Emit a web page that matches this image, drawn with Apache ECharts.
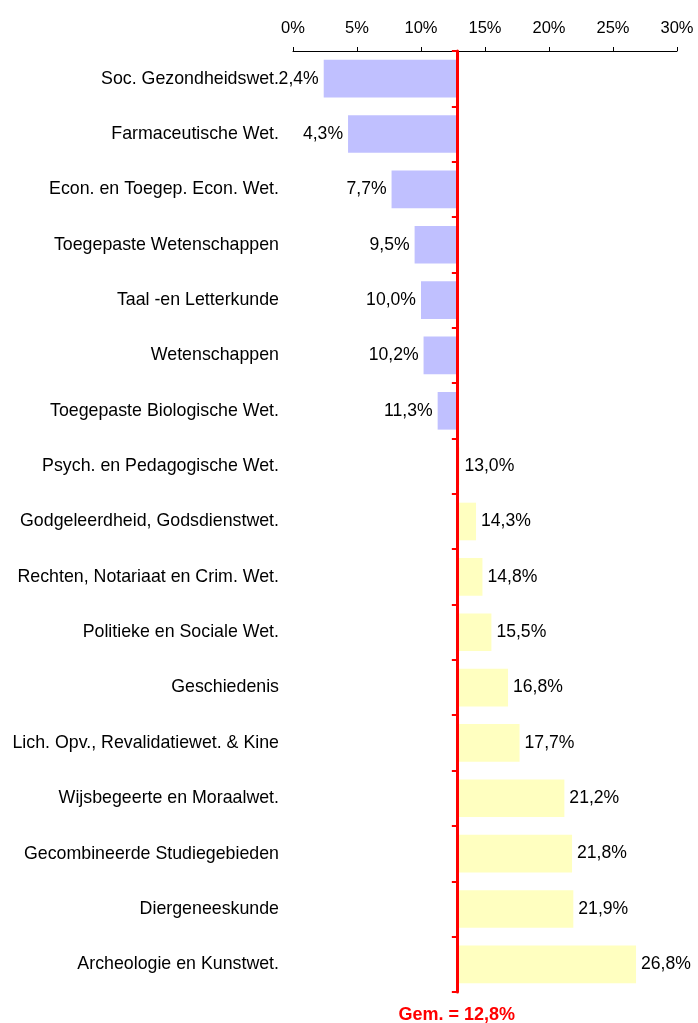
<!DOCTYPE html>
<html>
<head>
<meta charset="utf-8">
<script src="https://cdn.jsdelivr.net/npm/echarts@6/dist/echarts.min.js"></script>
<style>
  html, body { margin: 0; padding: 0; background: #ffffff; }
  #chart { width: 698px; height: 1023px; }
</style>
</head>
<body>
<div id="chart"></div>
<script>
// Study fields, top to bottom
const categories = [
  'Soc. Gezondheidswet.',
  'Farmaceutische Wet.',
  'Econ. en Toegep. Econ. Wet.',
  'Toegepaste Wetenschappen',
  'Taal -en Letterkunde',
  'Wetenschappen',
  'Toegepaste Biologische Wet.',
  'Psych. en Pedagogische Wet.',
  'Godgeleerdheid, Godsdienstwet.',
  'Rechten, Notariaat en Crim. Wet.',
  'Politieke en Sociale Wet.',
  'Geschiedenis',
  'Lich. Opv., Revalidatiewet. & Kine',
  'Wijsbegeerte en Moraalwet.',
  'Gecombineerde Studiegebieden',
  'Diergeneeskunde',
  'Archeologie en Kunstwet.'
];
// Percentage per study field
const values = [2.4, 4.3, 7.7, 9.5, 10.0, 10.2, 11.3, 13.0, 14.3, 14.8, 15.5, 16.8, 17.7, 21.2, 21.8, 21.9, 26.8];
// Overall average
const average = 12.8;
// Percentage axis
const axisMin = 0;
const axisMax = 30;
const axisStep = 5;

const FONT = '"Liberation Sans", Arial, Helvetica, sans-serif';
const BELOW = '#c0c0ff';
const ABOVE = '#ffffc0';
const GRID_LEFT = 293;

const fmt = v => v.toFixed(1).replace('.', ',') + '%';

const chart = echarts.init(document.getElementById('chart'), null, { renderer: 'canvas' });

chart.setOption({
  animation: false,
  backgroundColor: '#ffffff',
  textStyle: { fontFamily: FONT },
  grid: { left: GRID_LEFT, right: 21, top: 51, bottom: 31, containLabel: false },
  xAxis: {
    type: 'value',
    position: 'top',
    min: axisMin,
    max: axisMax,
    interval: axisStep,
    axisLine: { show: true, lineStyle: { color: '#000', width: 1 } },
    axisTick: { show: true, length: 4, lineStyle: { color: '#000', width: 1 } },
    splitLine: { show: false },
    axisLabel: { formatter: '{value}%', fontSize: 16.5, color: '#000', margin: 14, fontFamily: FONT }
  },
  yAxis: [
    {
      type: 'category',
      data: categories,
      inverse: true,
      axisLine: { show: false },
      axisTick: { show: false },
      axisLabel: { fontSize: 17.8, color: '#000', margin: 14, fontFamily: FONT }
    },
    {
      // red average line with boundary ticks, drawn over the bars
      type: 'category',
      data: categories,
      inverse: true,
      position: 'left',
      offset: 0,
      z: 10,
      axisLine: { show: true, lineStyle: { color: '#ff0000', width: 3 } },
      axisTick: { show: true, length: 5, lineStyle: { color: '#ff0000', width: 2 } },
      axisLabel: { show: false }
    }
  ],
  series: [
    {
      name: 'base',
      type: 'bar',
      stack: 'dev',
      yAxisIndex: 0,
      barWidth: '68%',
      silent: true,
      itemStyle: { color: 'transparent' },
      data: values.map(v => Math.min(v, average))
    },
    {
      name: 'afwijking',
      type: 'bar',
      stack: 'dev',
      yAxisIndex: 0,
      barWidth: '68%',
      label: {
        show: true,
        fontSize: 17.6,
        color: '#000',
        distance: 5,
        fontFamily: FONT,
        formatter: p => fmt(values[p.dataIndex])
      },
      data: values.map(v => ({
        value: Math.abs(v - average),
        itemStyle: { color: v < average ? BELOW : ABOVE },
        label: { position: v < average ? 'left' : 'right' }
      }))
    }
  ]
});

const avgX = chart.convertToPixel({ xAxisIndex: 0 }, average);
chart.setOption({
  yAxis: [{}, { offset: GRID_LEFT - avgX }],
  graphic: [{
    type: 'text',
    x: avgX,
    y: 1015,
    style: {
      text: 'Gem. = ' + fmt(average),
      fill: '#ff0000',
      font: 'bold 18px ' + FONT,
      textAlign: 'center',
      textVerticalAlign: 'middle'
    }
  }]
});
</script>
</body>
</html>
